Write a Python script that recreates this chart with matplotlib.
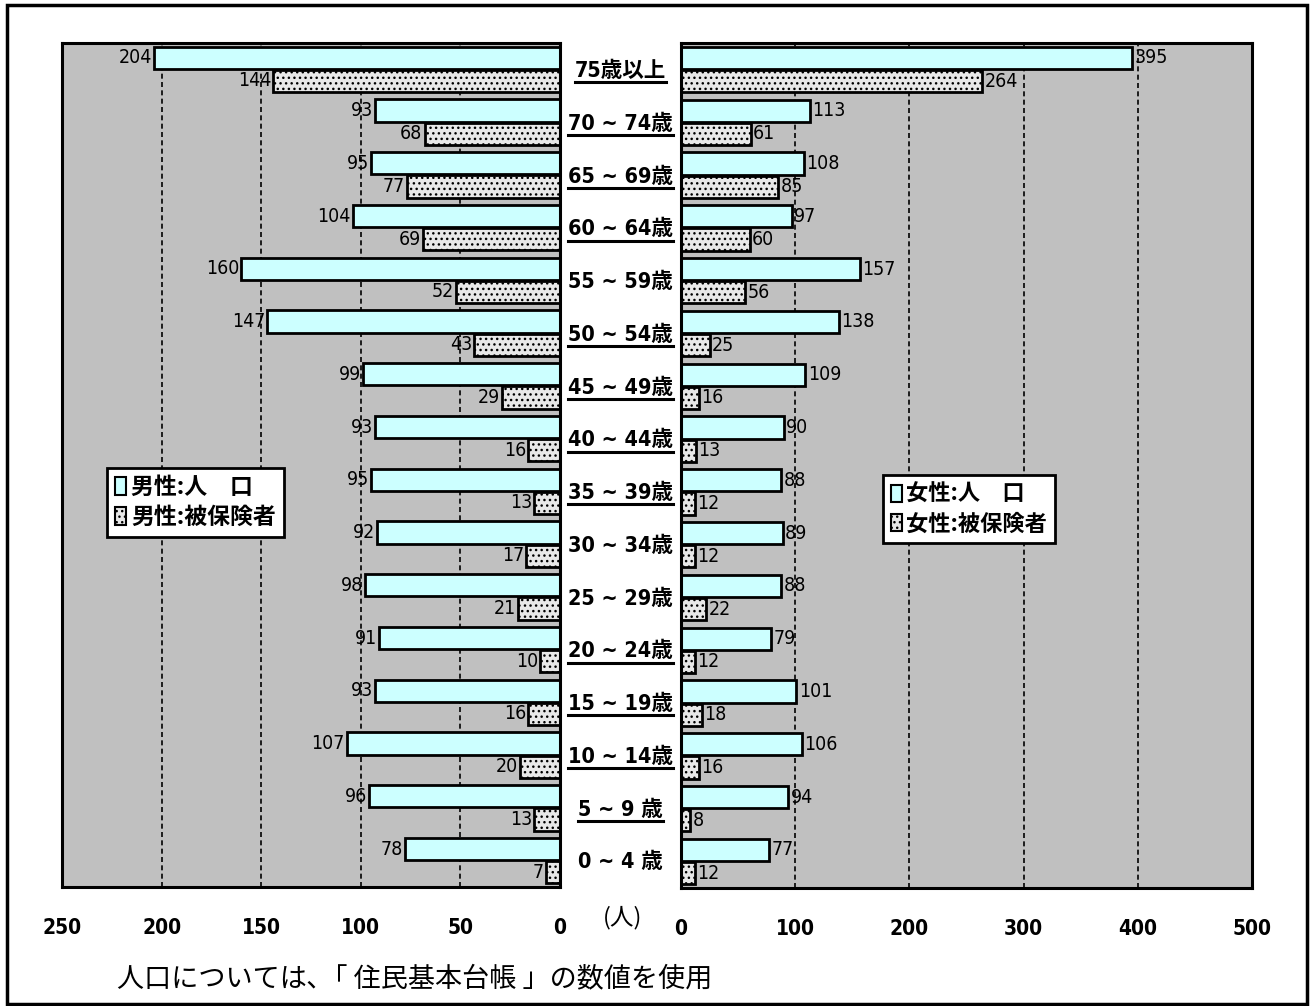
import matplotlib
matplotlib.use("Agg")
import matplotlib.pyplot as plt
from matplotlib import font_manager
from matplotlib.patches import Patch, Rectangle
from matplotlib.lines import Line2D
import numpy as np

# ---- data (top to bottom) ----
ages = ['75歳以上', '70 ~ 74歳', '65 ~ 69歳', '60 ~ 64歳', '55 ~ 59歳', '50 ~ 54歳',
        '45 ~ 49歳', '40 ~ 44歳', '35 ~ 39歳', '30 ~ 34歳', '25 ~ 29歳', '20 ~ 24歳',
        '15 ~ 19歳', '10 ~ 14歳', '5 ~ 9 歳', '0 ~ 4 歳']
underlined = [True, True, True, True, False, True, True, True, True, False, False,
              True, True, True, True, False]
male_pop = [204, 93, 95, 104, 160, 147, 99, 93, 95, 92, 98, 91, 93, 107, 96, 78]
male_ins = [144, 68, 77, 69, 52, 43, 29, 16, 13, 17, 21, 10, 16, 20, 13, 7]
female_pop = [395, 113, 108, 97, 157, 138, 109, 90, 88, 89, 88, 79, 101, 106, 94, 77]
female_ins = [264, 61, 85, 60, 56, 25, 16, 13, 12, 12, 22, 12, 18, 16, 8, 12]
left_ticks = [250, 200, 150, 100, 50, 0]
right_ticks = [0, 100, 200, 300, 400, 500]
legend_left = ['男性:人　口', '男性:被保険者']
legend_right = ['女性:人　口', '女性:被保険者']
unit_label = '(人)'
footer = '人口については､「 住民基本台帳 」の数値を使用'

# pick a narrow latin font if available
entries = font_manager.fontManager.ttflist
names = {f.name for f in entries}
STRETCH = 'normal'
if 'Liberation Sans Narrow' in names:
    NARROW_FAM = 'Liberation Sans Narrow'
elif any(f.name == 'DejaVu Sans' and str(f.stretch) in ('condensed', '300', 'semi-condensed')
         for f in entries):
    NARROW_FAM = 'DejaVu Sans'
    STRETCH = 'condensed'
else:
    NARROW_FAM = 'Liberation Sans'
NARROW = [NARROW_FAM, 'Noto Sans CJK JP', 'DejaVu Sans']
CJK = ['Noto Sans CJK JP', 'DejaVu Sans']

W, H = 1312, 1006
fig = plt.figure(figsize=(W / 100, H / 100), dpi=100)
fig.patch.set_facecolor('white')

def fx(px):
    return px / W

def fy(py):
    return 1 - py / H

# outer frame
fig.add_artist(Rectangle((fx(7), fy(1004)), fx(1307) - fx(7), fy(5) - fy(1004),
                         transform=fig.transFigure, fill=False, lw=2.5, ec='black'))

top, bot_l, bot_r = 43, 887, 888
axL = fig.add_axes([fx(62), fy(bot_l), fx(560) - fx(62), fy(top) - fy(bot_l)])
axR = fig.add_axes([fx(681), fy(bot_r), fx(1252) - fx(681), fy(top) - fy(bot_r)])

CYAN = '#CCFFFF'
HATCH_FC = '#E8E8E8'
y = np.arange(len(ages))
off = 0.22
hgt = 0.42

for ax in (axL, axR):
    ax.set_facecolor('#C0C0C0')
    for s in ax.spines.values():
        s.set_linewidth(2.2)
        s.set_color('black')
    ax.set_ylim(len(ages) - 0.5, -0.5)
    ax.set_yticks([])
    ax.tick_params(axis='x', length=0, pad=22)
    ax.xaxis.grid(True, color='black', linestyle=(0, (3, 2)), linewidth=1.2)
    ax.set_axisbelow(True)

plt.rcParams['hatch.linewidth'] = 1.0

axL.barh(y - off, male_pop, height=hgt, color=CYAN, edgecolor='black', lw=2)
axL.barh(y + off, male_ins, height=hgt, color=HATCH_FC, edgecolor='black', lw=2, hatch='...')
axR.barh(y - off, female_pop, height=hgt, color=CYAN, edgecolor='black', lw=2)
axR.barh(y + off, female_ins, height=hgt, color=HATCH_FC, edgecolor='black', lw=2, hatch='...')

axL.set_xlim(250, 0)
axR.set_xlim(0, 500)
axL.set_xticks(left_ticks)
axR.set_xticks(right_ticks)
for ax in (axL, axR):
    ax.set_xticklabels([str(t) for t in ax.get_xticks().astype(int)],
                       family=NARROW, stretch=STRETCH, fontweight='bold', fontsize=15)

vfs = 14
for i in range(len(ages)):
    axL.text(male_pop[i] + 1.0, y[i] - off, str(male_pop[i]), ha='right', va='center',
             family=NARROW, stretch=STRETCH, fontsize=vfs)
    axL.text(male_ins[i] + 1.0, y[i] + off, str(male_ins[i]), ha='right', va='center',
             family=NARROW, stretch=STRETCH, fontsize=vfs)
    axR.text(female_pop[i] + 2.0, y[i] - off, str(female_pop[i]), ha='left', va='center',
             family=NARROW, stretch=STRETCH, fontsize=vfs)
    axR.text(female_ins[i] + 2.0, y[i] + off, str(female_ins[i]), ha='left', va='center',
             family=NARROW, stretch=STRETCH, fontsize=vfs)

# center age labels
group_h = (bot_l - top) / len(ages)
labels = []
for i, a in enumerate(ages):
    cy = top + group_h * (i + 0.5) + 1.5
    t = fig.text(fx(620.5), fy(cy), a, ha='center', va='center', family=NARROW,
                 stretch=STRETCH, fontweight='bold', fontsize=15.5)
    labels.append((t, cy))

fig.canvas.draw()
r = fig.canvas.get_renderer()
for (t, cy), u in zip(labels, underlined):
    if u:
        bb = t.get_window_extent(r)
        fig.add_artist(Line2D([bb.x0 / W, bb.x1 / W], [fy(cy + 11.5)] * 2,
                              transform=fig.transFigure, color='black', lw=2.2))

# unit label
fig.text(fx(623), fy(918), unit_label, ha='center', va='center', family=CJK, fontsize=17)

# legends
hl = [Patch(facecolor=CYAN, edgecolor='black', lw=1.5),
      Patch(facecolor=HATCH_FC, edgecolor='black', lw=1.5, hatch='...')]
for labs, xy, fs in ((legend_left, (107, 468), 16.5), (legend_right, (883, 475), 16)):
    lg = fig.legend(hl, labs, loc='upper left', bbox_to_anchor=(fx(xy[0]), fy(xy[1])),
                    prop={'family': CJK, 'weight': 'bold', 'size': fs},
                    frameon=True, fancybox=False, framealpha=1, edgecolor='black',
                    handlelength=0.5, handleheight=0.8, handletextpad=0.2,
                    labelspacing=0.3, borderpad=0.35, borderaxespad=0)
    lg.get_frame().set_linewidth(2)

# footer
fig.text(fx(117), fy(979), footer, ha='left', va='center', family=CJK, fontsize=19.5)

fig.savefig('out.png', dpi=100, facecolor='white')
